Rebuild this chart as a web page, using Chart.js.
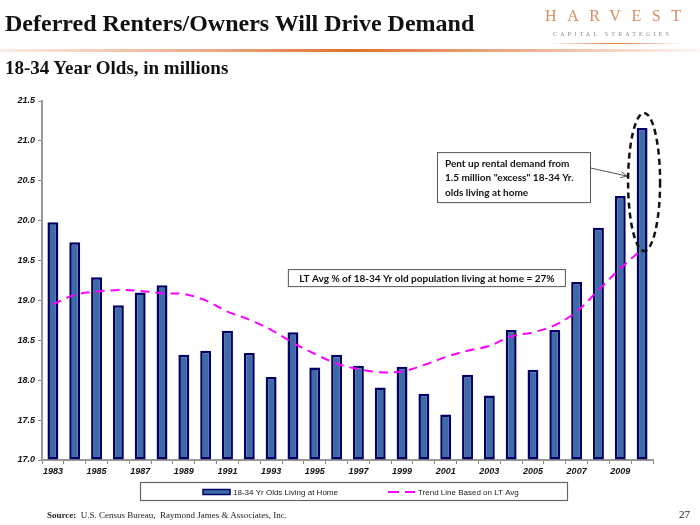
<!DOCTYPE html>
<html><head><meta charset="utf-8">
<script src="https://cdn.jsdelivr.net/npm/chart.js@4/dist/chart.umd.min.js"></script>
<style>
html,body{margin:0;padding:0;background:#fff;}
#wrap{position:relative;width:700px;height:525px;overflow:hidden;background:#fff;}
#c{position:absolute;left:0;top:0;}
.t{position:absolute;white-space:nowrap;color:#111;}
#title{left:5px;top:10px;font:bold 24px "Liberation Serif",serif;}
#sub{left:5px;top:57px;font:bold 19px "Liberation Serif",serif;}
#rule{position:absolute;left:0;top:49px;width:700px;height:3px;background:linear-gradient(to right,rgba(224,112,48,0.12),rgba(224,112,48,0.6) 30%,#E0702F 50%,rgba(224,112,48,0.55) 75%,rgba(224,112,48,0.05));}
#logo1{left:545px;top:7px;font:16px "Liberation Serif",serif;letter-spacing:10.6px;color:#D98A5E;}
#logo2{left:553px;top:31px;font:6px "Liberation Serif",serif;letter-spacing:3.2px;color:#888;}
#logoline{position:absolute;left:548px;top:43px;width:134px;height:1px;background:linear-gradient(to right,rgba(224,112,48,0),#E07A3F 50%,rgba(224,112,48,0));}
#src{left:47px;top:510px;font:9px "Liberation Serif",serif;color:#222;}
#pg{left:679px;top:508px;font:11px "Liberation Serif",serif;color:#222;}
</style></head>
<body><div id="wrap">
<canvas id="c" width="700" height="525"></canvas>
<div class="t" id="title">Deferred Renters/Owners Will Drive Demand</div>
<div id="rule"></div>
<div class="t" id="sub">18-34 Year Olds, in millions</div>
<div class="t" id="logo1">HARVEST</div>
<div class="t" id="logo2">CAPITAL STRATEGIES</div>
<div id="logoline"></div>
<div class="t" id="src"><b>Source:</b>&nbsp; U.S. Census Bureau,&nbsp; Raymond James &amp; Associates, Inc.</div>
<div class="t" id="pg">27</div>
</div>
<script>
const years = ['1983','1984','1985','1986','1987','1988','1989','1990','1991','1992','1993','1994','1995','1996','1997','1998','1999','2000','2001','2002','2003','2004','2005','2006','2007','2008','2009','2010'];
const livingAtHome = [19.98,19.73,19.29,18.94,19.10,19.19,18.32,18.37,18.62,18.34,18.04,18.60,18.16,18.32,18.18,17.91,18.17,17.83,17.57,18.07,17.81,18.63,18.13,18.63,19.23,19.91,20.31,21.16];
const trendLine = [18.95,19.07,19.11,19.13,19.12,19.09,19.08,19.00,18.86,18.76,18.63,18.47,18.33,18.21,18.14,18.10,18.11,18.19,18.29,18.37,18.43,18.55,18.60,18.69,18.86,19.13,19.40,19.64];
const yMin = 17.0, yMax = 21.5, yStep = 0.5;
const seriesNames = ['18-34 Yr Olds Living at Home','Trend Line Based on LT Avg'];
const noteAvg = 'LT Avg % of 18-34 Yr old population living at home = 27%';
const notePent = ['Pent up rental demand from','1.5 million "excess" 18-34 Yr.','olds living at home'];

const annot = {
  id:'annot',
  afterDatasetsDraw(chart){
    const ctx = chart.ctx, x = chart.scales.x, y = chart.scales.y;
    const last = years.length - 1;
    ctx.save();
    // LT avg box
    const bx1 = x.getPixelForValue(17) + 3, by1 = y.getPixelForValue(19.28);
    ctx.fillStyle = '#fff'; ctx.strokeStyle = '#555'; ctx.lineWidth = 1;
    ctx.fillRect(bx1-139, by1-9, 278, 18); ctx.strokeRect(bx1-138.5, by1-8.5, 277, 17);
    ctx.fillStyle = '#111'; ctx.font = 'bold 10px Lato, "Open Sans", sans-serif';
    ctx.textAlign = 'center'; ctx.textBaseline = 'middle';
    ctx.fillText(noteAvg, bx1, by1+0.5, 262);
    // Pent-up box
    const bx2 = x.getPixelForValue(21.13), by2 = y.getPixelForValue(20.54);
    ctx.fillStyle = '#fff';
    ctx.fillRect(bx2-77, by2-25.5, 154, 51); ctx.strokeRect(bx2-76.5, by2-25, 153, 50);
    ctx.fillStyle = '#111'; ctx.textAlign = 'left';
    notePent.forEach((s,i)=>ctx.fillText(s, bx2-69, by2-14 + i*14.5, 140));
    // arrow
    const ax0 = bx2+77, ay0 = by2-9.5;
    const ax1 = x.getPixelForValue(last) - 15, ay1 = by2-1.5;
    ctx.strokeStyle = '#555'; ctx.lineWidth = 1;
    ctx.beginPath(); ctx.moveTo(ax0, ay0); ctx.lineTo(ax1, ay1); ctx.stroke();
    const ang = Math.atan2(ay1-ay0, ax1-ax0);
    ctx.beginPath();
    ctx.moveTo(ax1 - 7*Math.cos(ang-0.45), ay1 - 7*Math.sin(ang-0.45));
    ctx.lineTo(ax1, ay1);
    ctx.lineTo(ax1 - 7*Math.cos(ang+0.45), ay1 - 7*Math.sin(ang+0.45));
    ctx.stroke();
    // dashed ellipse around last bar
    const ex = x.getPixelForValue(last) + 2;
    const eTop = y.getPixelForValue(21.35), eBot = y.getPixelForValue(19.62);
    ctx.strokeStyle = '#111'; ctx.lineWidth = 2.5; ctx.setLineDash([6,4]);
    ctx.beginPath(); ctx.ellipse(ex, (eTop+eBot)/2, 16, (eBot-eTop)/2, 0, 0, Math.PI*2); ctx.stroke();
    ctx.restore();
  },
  afterDraw(chart){
    const ctx = chart.ctx;
    const barDs = chart.data.datasets[1], lineDs = chart.data.datasets[0];
    ctx.save();
    ctx.strokeStyle = '#666'; ctx.lineWidth = 1.2;
    ctx.strokeRect(140.5, 482.5, 427, 18);
    const cy = 492;
    ctx.fillStyle = barDs.backgroundColor; ctx.fillRect(203, cy-2.5, 27, 5);
    ctx.strokeStyle = barDs.borderColor; ctx.lineWidth = 1.5; ctx.strokeRect(203, cy-2.5, 27, 5);
    ctx.strokeStyle = lineDs.borderColor; ctx.lineWidth = 2; ctx.setLineDash([11,6]);
    ctx.beginPath(); ctx.moveTo(388, cy); ctx.lineTo(415, cy); ctx.stroke();
    ctx.setLineDash([]);
    ctx.fillStyle = '#222'; ctx.font = '8px "Liberation Sans", Arial, sans-serif';
    ctx.textBaseline = 'middle'; ctx.textAlign = 'left';
    ctx.fillText(seriesNames[0], 233, cy+0.5);
    ctx.fillText(seriesNames[1], 418, cy+0.5);
    ctx.restore();
  }
};

const tickFont = {family:'"Liberation Sans", Arial, sans-serif', size:9, weight:'bold', style:'italic'};
new Chart(document.getElementById('c'), {
  data:{
    labels: years,
    datasets:[
      {type:'line', label:seriesNames[1], data:trendLine, borderColor:'#FF00FF', borderWidth:2, borderDash:[9,6], pointRadius:0, tension:0.35, fill:false, order:0},
      {type:'bar', label:seriesNames[0], data:livingAtHome, backgroundColor:'#3D6BA6', borderColor:'#000066', borderWidth:2.5, borderSkipped:false, barPercentage:0.5, categoryPercentage:1.0, base:yMin, order:1}
    ]
  },
  options:{
    responsive:false, animation:false, devicePixelRatio:1,
    layout:{padding:{left:0, right:47, top:101, bottom:45}},
    plugins:{legend:{display:false}, tooltip:{enabled:false}},
    scales:{
      x:{
        offset:true,
        grid:{display:true, offset:true, drawOnChartArea:false, drawTicks:true, tickLength:4, color:'#888', lineWidth:1},
        border:{display:true, color:'#999', width:2},
        ticks:{autoSkip:false, maxRotation:0, padding:2, color:'#111', font:tickFont,
          callback:(v,i)=> (i%2===0 ? years[i] : '')},
        afterFit:(s)=>{s.height = 20;}
      },
      y:{
        min:yMin, max:yMax,
        grid:{display:true, drawOnChartArea:false, drawTicks:true, tickLength:4, color:'#888'},
        border:{display:true, color:'#999', width:2},
        ticks:{stepSize:yStep, padding:3, color:'#111', font:tickFont, callback:(v)=>Number(v).toFixed(1)},
        afterFit:(s)=>{s.width = 42;}
      }
    }
  },
  plugins:[annot]
});
</script>
</body></html>
